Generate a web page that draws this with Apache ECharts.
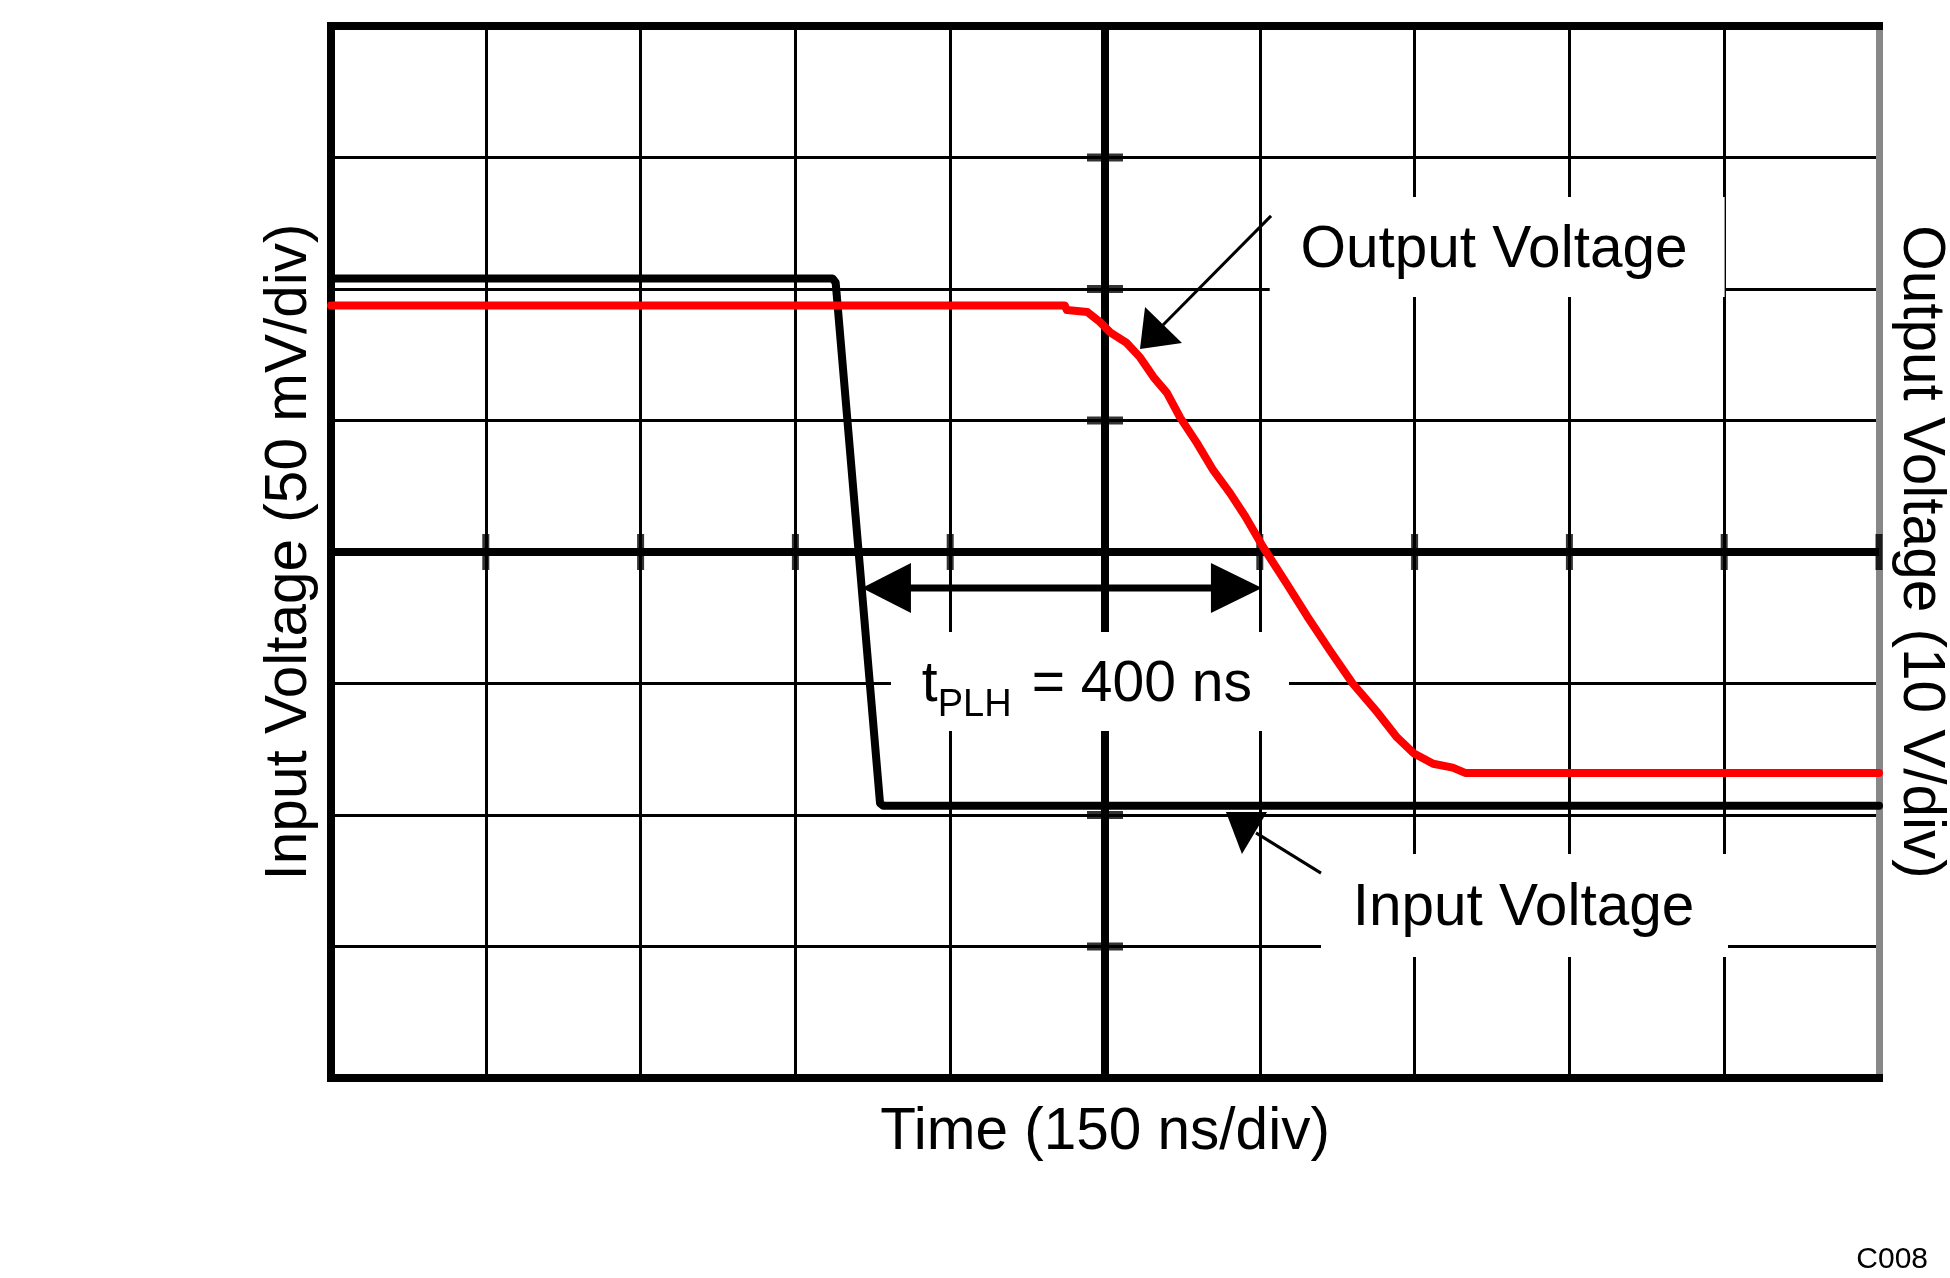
<!DOCTYPE html>
<html><head><meta charset="utf-8">
<script src="https://cdn.jsdelivr.net/npm/echarts@6/dist/echarts.min.js"></script>
<style>html,body{margin:0;padding:0;background:#fff}#c{width:1950px;height:1278px}</style>
</head><body><div id="c"></div>
<script>
const FONT = '"Liberation Sans", Arial, Helvetica, sans-serif';

// Axes: time in ns (150 ns/div), input in mV (50 mV/div), output in V (10 V/div)
const timeMin = 0, timeMax = 1500, timeStep = 150;
const inMin = -200, inMax = 200, inStep = 50;
const outMin = -40, outMax = 40, outStep = 10;

// Input voltage trace (ns, mV)
const inputTime = [0, 486, 489, 532, 535, 1500];
const inputMv   = [104, 104, 102.5, -95.5, -96.5, -96.5];

// Output voltage trace (ns, V)
const outputTime = [0, 711, 713, 733, 745, 755, 771, 784, 797, 810, 823, 839, 855, 871, 886, 903, 926, 946, 968, 990, 1014, 1033, 1049, 1068, 1087, 1099, 1500];
const outputV    = [18.75, 18.75, 18.4, 18.25, 17.5, 16.7, 15.9, 14.8, 13.3, 12.1, 10.2, 8.3, 6.2, 4.5, 2.7, 0.4, -2.4, -4.9, -7.5, -10.0, -12.2, -14.1, -15.3, -16.1, -16.4, -16.8, -16.8];

// Scope-style centre cross-hair and its tick marks
const centerTime = 750, centerMv = 0;
const xTickMarks = [150, 300, 450, 600, 900, 1050, 1200, 1350, 1500];
const yTickMarks = [-150, -100, -50, 50, 100, 150];

// Annotations (data units: ns, mV)
const tplhArrow = { from: 514.5, to: 902.1, at: -13.7 };
const labelBoxes = [
  [542.6, -30.4, 928.3, -68.1],
  [909.6, 135.0, 1350.4, 97.0],
  [959.3, -114.8, 1353.7, -154.0]
];
const outLabel = { text: 'Output Voltage', x: 1126.9, y: 114.4 };
const inLabel = { text: 'Input Voltage', x: 1155.5, y: -135.7 };
const tplhLabel = { x: 572.4, y: -50.6 };
const outArrowHead = [[788.8, 93.2], [824.6, 79.5], [783.9, 77.2]];
const outArrowLine = [[910.9, 127.8], [806.2, 86.3]];
const inArrowHead = [[867.2, -98.9], [907.0, -98.9], [882.7, -114.8]];
const inArrowLine = [[896.3, -106.8], [959.3, -122.1]];

const inputData = inputTime.map((t, i) => [t, inputMv[i]]);
const outputData = outputTime.map((t, i) => [t, outputV[i]]);

const chart = echarts.init(document.getElementById('c'), null, { renderer: 'canvas' });
const BIG = 58.5;

const crossStyle = { color: '#000', width: 8, cap: 'butt' };

const option = {
  animation: false,
  backgroundColor: '#fff',
  grid: { left: 331, right: 71, top: 26, bottom: 200, containLabel: false, outerBoundsMode: 'none' },
  xAxis: [
    {
      type: 'value', min: timeMin, max: timeMax, interval: timeStep, position: 'bottom', z: 1,
      name: 'Time (150 ns/div)', nameLocation: 'middle', nameGap: 25,
      nameTextStyle: { fontSize: BIG, color: '#000', fontFamily: FONT },
      axisLine: { show: true, onZero: false, lineStyle: { color: '#000', width: 8, cap: 'square' } },
      axisTick: { show: false }, axisLabel: { show: false },
      splitLine: { show: true, showMinLine: false, showMaxLine: false, lineStyle: { color: '#000', width: 3 } }
    },
    {
      type: 'value', min: timeMin, max: timeMax, interval: timeStep, position: 'top', z: 1,
      axisLine: { show: true, onZero: false, lineStyle: { color: '#000', width: 8, cap: 'square' } },
      axisTick: { show: false }, axisLabel: { show: false }, splitLine: { show: false }
    }
  ],
  yAxis: [
    {
      type: 'value', min: inMin, max: inMax, interval: inStep, position: 'left',
      name: 'Input Voltage (50 mV/div)', nameLocation: 'middle', nameGap: 12,
      nameTextStyle: { fontSize: BIG, color: '#000', fontFamily: FONT },
      axisLine: { show: true, onZero: false, lineStyle: { color: '#000', width: 8 } },
      axisTick: { show: false }, axisLabel: { show: false },
      splitLine: { show: true, showMinLine: false, showMaxLine: false, lineStyle: { color: '#000', width: 3 } }
    },
    {
      type: 'value', min: outMin, max: outMax, interval: outStep, position: 'right',
      name: 'Output Voltage (10 V/div)', nameLocation: 'middle', nameGap: 12, nameRotate: -90,
      nameTextStyle: { fontSize: BIG, color: '#000', fontFamily: FONT },
      axisLine: { show: true, onZero: false, lineStyle: { color: '#888', width: 7 } },
      axisTick: { show: false }, axisLabel: { show: false }, splitLine: { show: false }
    }
  ],
  series: [
    {
      type: 'line', name: 'centerV', xAxisIndex: 0, yAxisIndex: 0, z: 1, silent: true,
      showSymbol: false, symbol: 'none', lineStyle: crossStyle,
      data: [[centerTime, inMin], [centerTime, inMax]]
    },
    {
      type: 'line', name: 'centerH', xAxisIndex: 0, yAxisIndex: 0, z: 1, silent: true,
      showSymbol: false, symbol: 'none', lineStyle: crossStyle,
      data: [[timeMin, centerMv], [timeMax, centerMv]]
    },
    {
      type: 'scatter', name: 'xticks', xAxisIndex: 0, yAxisIndex: 0, z: 1, silent: true,
      symbol: 'rect', symbolSize: [7, 36], itemStyle: { color: '#000' },
      data: xTickMarks.map(t => [t, centerMv])
    },
    {
      type: 'scatter', name: 'yticks', xAxisIndex: 0, yAxisIndex: 0, z: 1, silent: true,
      symbol: 'rect', symbolSize: [36, 8], itemStyle: { color: '#000' },
      data: yTickMarks.map(v => [centerTime, v])
    },
    {
      type: 'line', name: 'Input Voltage', xAxisIndex: 0, yAxisIndex: 0, z: 3,
      showSymbol: false, symbol: 'none',
      lineStyle: { color: '#000', width: 8, cap: 'round', join: 'round' },
      data: inputData
    },
    {
      type: 'line', name: 'Output Voltage', xAxisIndex: 0, yAxisIndex: 1, z: 4,
      showSymbol: false, symbol: 'none',
      lineStyle: { color: '#ff0000', width: 8, cap: 'round', join: 'round' },
      data: outputData
    }
  ]
};
chart.setOption(option);

function P(p) { return chart.convertToPixel({ xAxisIndex: 0, yAxisIndex: 0 }, p); }

const g = [];
labelBoxes.forEach(b => {
  const a = P([b[0], b[1]]), c = P([b[2], b[3]]);
  g.push({ type: 'rect', z: 2, silent: true,
    shape: { x: a[0], y: a[1], width: c[0] - a[0], height: c[1] - a[1] },
    style: { fill: '#fff', stroke: null } });
});
function txt(s, p, size, align, dx, dy) {
  g.push({ type: 'text', z: 6, silent: true, x: p[0] + (dx || 0), y: p[1] + (dy || 0),
    style: { text: s, font: size + 'px ' + FONT, fill: '#000', align: align, verticalAlign: 'middle',
      textAlign: align, textVerticalAlign: 'middle' } });
}
txt(outLabel.text, P([outLabel.x, outLabel.y]), BIG, 'center');
txt(inLabel.text, P([inLabel.x, inLabel.y]), BIG, 'center');
const tp = P([tplhLabel.x, tplhLabel.y]);
txt('t', tp, 57, 'left');
txt('PLH', tp, 38, 'left', 16, 20);
txt('= 400 ns', tp, 57, 'left', 110, 0);

function poly(pts) {
  g.push({ type: 'polygon', z: 6, silent: true, shape: { points: pts.map(P) }, style: { fill: '#000' } });
}
function seg(p1, p2, w) {
  const a = P(p1), b = P(p2);
  g.push({ type: 'line', z: 6, silent: true, shape: { x1: a[0], y1: a[1], x2: b[0], y2: b[1] },
    style: { stroke: '#000', lineWidth: w } });
}
// tPLH double arrow
const L = P([tplhArrow.from, tplhArrow.at]), R = P([tplhArrow.to, tplhArrow.at]);
g.push({ type: 'line', z: 6, silent: true, shape: { x1: L[0] + 20, y1: L[1], x2: R[0] - 20, y2: R[1] },
  style: { stroke: '#000', lineWidth: 7 } });
g.push({ type: 'polygon', z: 6, silent: true, shape: { points: [[L[0], L[1]], [L[0] + 49, L[1] - 25], [L[0] + 49, L[1] + 25]] }, style: { fill: '#000' } });
g.push({ type: 'polygon', z: 6, silent: true, shape: { points: [[R[0], R[1]], [R[0] - 51, R[1] - 25], [R[0] - 51, R[1] + 25]] }, style: { fill: '#000' } });
// Label arrows
seg(outArrowLine[0], outArrowLine[1], 3);
poly(outArrowHead);
seg(inArrowLine[0], inArrowLine[1], 3);
poly(inArrowHead);
// figure id
g.push({ type: 'text', z: 6, silent: true, x: 1928, y: 1260,
  style: { text: 'C008', font: '30px ' + FONT, fill: '#000', align: 'right', verticalAlign: 'middle', textAlign: 'right', textVerticalAlign: 'middle' } });

chart.setOption({ graphic: g });
</script>
</body></html>
